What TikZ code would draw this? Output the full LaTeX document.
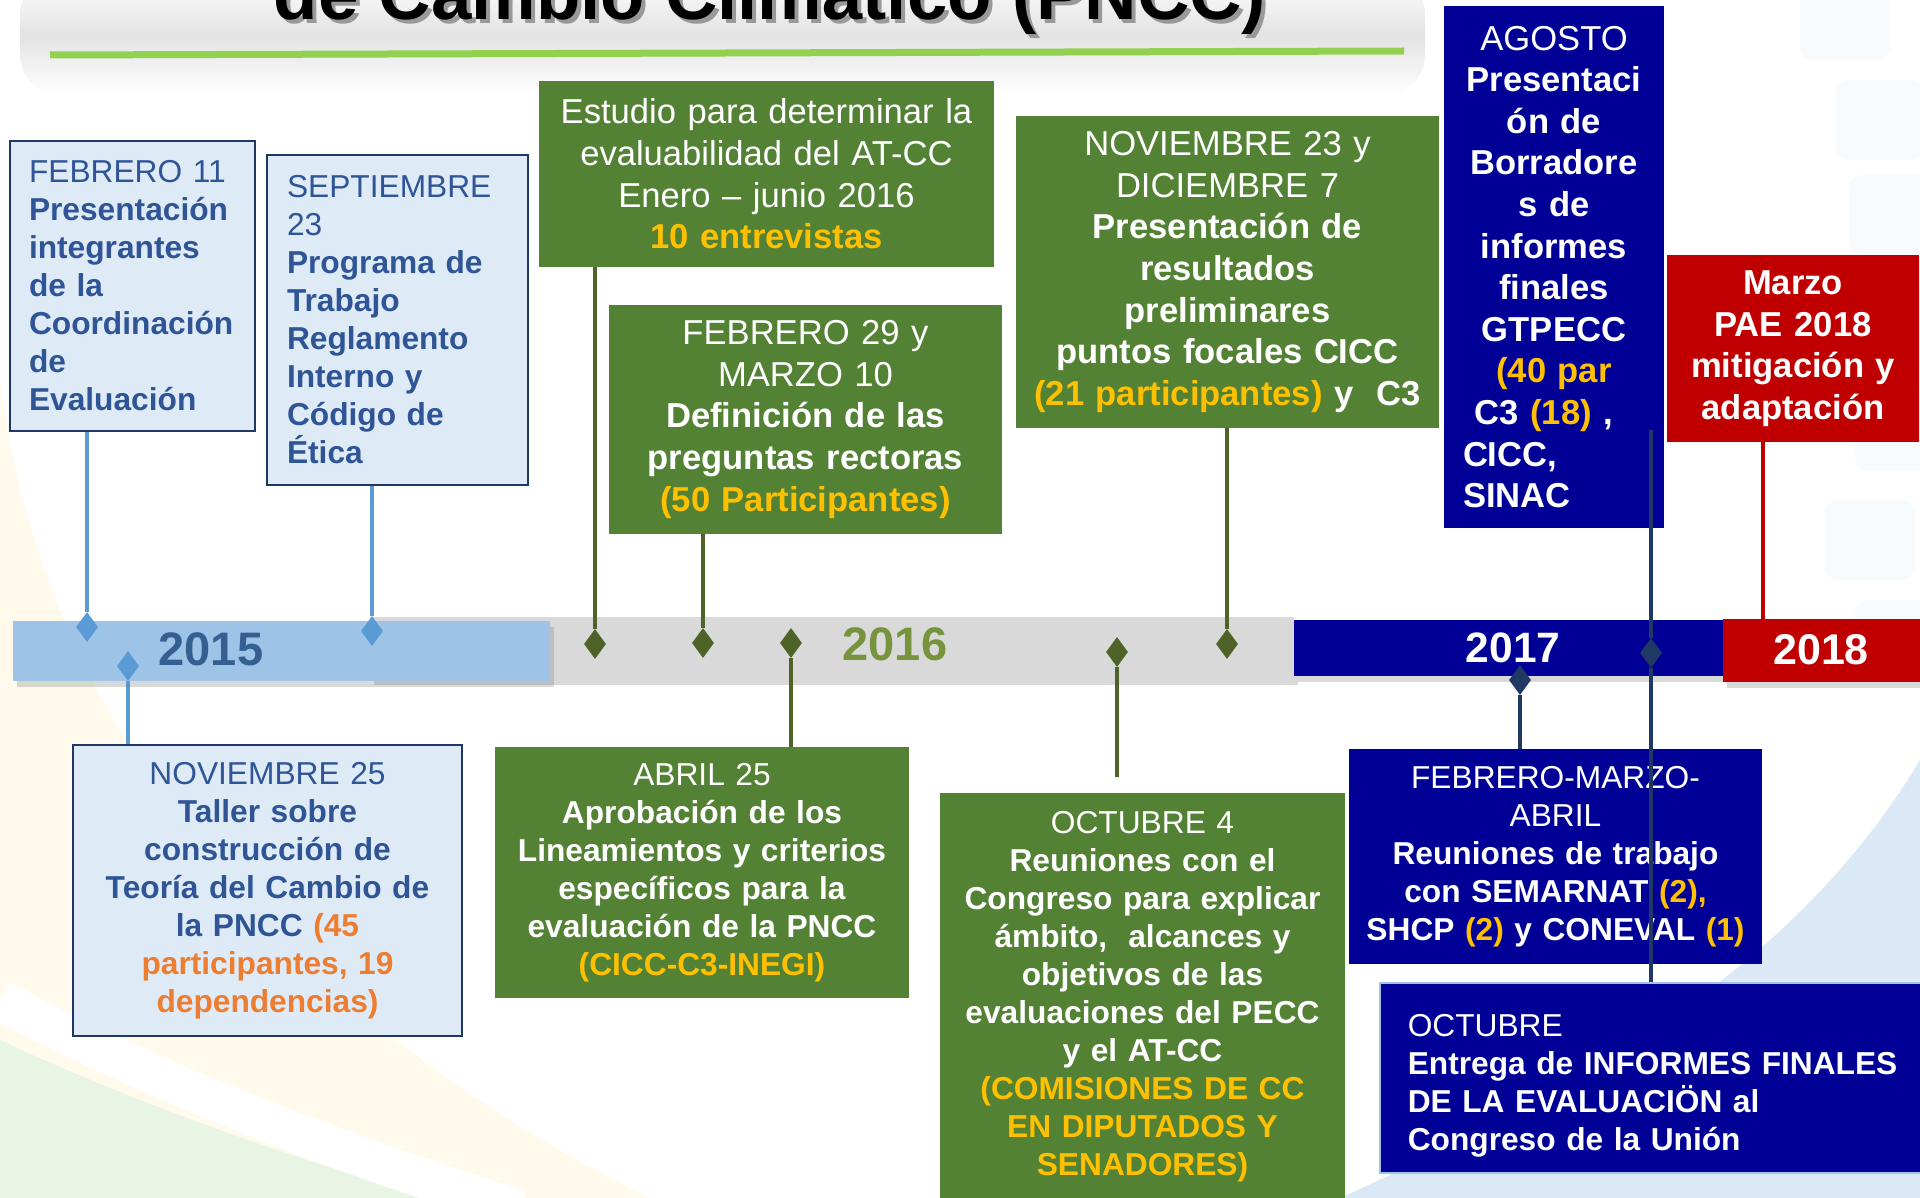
\documentclass[tikz,border=0pt]{standalone}
\usepackage{fontspec}
\setmainfont{Liberation Sans}
\usepackage{xcolor}
\usetikzlibrary{shapes.geometric,shadows}
\definecolor{pnccgreen}{HTML}{548235}
\definecolor{pnccgold}{HTML}{FFC000}
\definecolor{pnccorange}{HTML}{ED7D31}
\definecolor{pnccnavy}{HTML}{000096}
\definecolor{pnccred}{HTML}{C00000}
\definecolor{pnccpale}{HTML}{DEEBF7}
\definecolor{pnccblue}{HTML}{2F5597}
\definecolor{pnccbar}{HTML}{9DC3E6}
\definecolor{pnccsky}{HTML}{5B9BD5}
\definecolor{pnccolive}{HTML}{4F6228}
\definecolor{pnccink}{HTML}{1F3864}
\definecolor{pnccgray}{HTML}{D9D9D9}
\definecolor{pncclime}{HTML}{92D050}
\definecolor{pncc15}{HTML}{365F91}
\definecolor{pncc16}{HTML}{77933C}
\newcommand\letrachica{\fontsize{31.7}{38}\selectfont}
\newcommand\letragrande{\fontsize{34.6}{41.6}\selectfont}

\begin{document}
\begin{tikzpicture}[
  x=1pt, y=-1pt,
  every node/.style={inner sep=0pt},
  cajaclara/.style={rectangle, draw=pnccink, line width=2pt, fill=pnccpale, text=pnccblue, font=\letrachica},
  cajaverde/.style={rectangle, fill=pnccgreen, text=white, align=center},
  cajaazul/.style={rectangle, fill=pnccnavy, text=white},
  cajaroja/.style={rectangle, fill=pnccred, text=white, align=center, font=\letragrande\bfseries},
  barra/.style={rectangle, anchor=north west, drop shadow={opacity=0.3, shadow xshift=4pt, shadow yshift=-6pt}},
  rombo/.style={diamond, minimum width=22pt, minimum height=30pt},
  lineaclara/.style={draw=pnccsky, line width=4pt},
  lineaverde/.style={draw=pnccolive, line width=4pt},
  lineaazul/.style={draw=pnccink, line width=4pt},
  linearoja/.style={draw=pnccred, line width=4pt}
]
  \useasboundingbox (0,0) rectangle (1920,1198);
  \clip (0,0) rectangle (1920,1198);

  \fill[pnccgold!8] (0,380) .. controls (40,700) and (250,1000) .. (650,1198) -- (0,1198) -- cycle;
  \fill[green!30!pnccgreen!12] (0,1040) .. controls (150,1110) and (300,1160) .. (430,1198) -- (0,1198) -- cycle;
  \draw[white, line width=40pt] (0,1000) .. controls (160,1085) and (330,1150) .. (520,1210);
  \fill[pnccsky!22] (1340,1198) .. controls (1600,1080) and (1800,960) .. (1920,760) -- (1920,1198) -- cycle;
  \foreach \cx/\cy in {1845/20, 1880/120, 1895/215, 1880/330, 1900/430, 1870/540, 1900/640}
    \fill[pnccsky!4, rounded corners=12pt] (\cx-45,\cy-40) rectangle (\cx+45,\cy+40);

  \shade[top color=white, bottom color=white, middle color=black!11, rounded corners=40pt] (20,-25) rectangle (1425,95);
  \draw[pncclime, line width=7pt] (50,55) -- (1404,51);
  \node[font=\fontsize{72.6}{72.6}\selectfont\bfseries, text=black!40, anchor=base] (titulosombra) at (774,24) {de Cambio Climático (PNCC)};
  \node[font=\fontsize{72.6}{72.6}\selectfont\bfseries, anchor=base] (titulo) at (770,20) {de Cambio Climático (PNCC)};

  \node[barra, fill=pnccgray, minimum width=924pt, minimum height=62pt] (barra16) at (370,617) {};
  \node[barra, fill=pnccbar, minimum width=537pt, minimum height=60pt] (barra15) at (13,621) {};
  \node[barra, fill=pnccnavy, minimum width=429pt, minimum height=56pt] (barra17) at (1294,620) {};
  \node[barra, fill=pnccred, minimum width=200pt, minimum height=63pt] (barra18) at (1723,619) {};
  \node[font=\fontsize{47}{47}\selectfont\bfseries, text=pncc15] (a2015) at (211,649) {2015};
  \node[font=\fontsize{47}{47}\selectfont\bfseries, text=pncc16] (a2016) at (895,644) {2016};
  \node[font=\fontsize{42.5}{42.5}\selectfont\bfseries, text=white] (a2017) at (1513,648) {2017};
  \node[font=\fontsize{43}{43}\selectfont\bfseries, text=white] (a2018) at (1821,650) {2018};

  \node[cajaclara, minimum width=245pt, minimum height=290pt, text width=207pt, align=left] (feb11) at (132.5,286)
    {FEBRERO 11\\ \textbf{Presentación}\\ \textbf{integrantes}\\ \textbf{de la}\\ \textbf{Coordinación}\\ \textbf{de}\\ \textbf{Evaluación}};
  \node[cajaclara, minimum width=261pt, minimum height=330pt, text width=221pt, align=left] (sep23) at (397.5,320)
    {SEPTIEMBRE\\ 23\\ \textbf{Programa de}\\ \textbf{Trabajo}\\ \textbf{Reglamento}\\ \textbf{Interno y}\\ \textbf{Código de}\\ \textbf{Ética}};
  \node[cajaverde, font=\letragrande, minimum width=455pt, minimum height=186pt, text width=440pt] (estudio) at (766.5,174)
    {Estudio para determinar la\\ evaluabilidad del AT-CC\\ Enero – junio 2016\\ \textbf{\textcolor{pnccgold}{10 entrevistas}}};
  \node[cajaverde, font=\letragrande, minimum width=393pt, minimum height=229pt, text width=380pt] (feb29) at (805.5,419.5)
    {FEBRERO 29 y\\ MARZO 10\\ \textbf{Definición de las}\\ \textbf{preguntas rectoras}\\ \textbf{\textcolor{pnccgold}{(50 Participantes)}}};
  \node[cajaverde, font=\letragrande, minimum width=423pt, minimum height=312pt, text width=410pt] (nov23) at (1227.5,272)
    {NOVIEMBRE 23 y\\ DICIEMBRE 7\\ \textbf{Presentación de}\\ \textbf{resultados}\\ \textbf{preliminares}\\ \textbf{puntos focales CICC}\\ \textbf{\textcolor{pnccgold}{(21 participantes)} y\ \ C3}};
  \node[cajaazul, font=\letragrande, align=center, minimum width=220pt, minimum height=522pt, text width=200pt] (agosto) at (1554,267)
    {AGOSTO\\ \textbf{Presentaci}\\ \textbf{ón de}\\ \textbf{Borradore}\\ \textbf{s de}\\ \textbf{informes}\\ \textbf{finales}\\ \textbf{GTPECC}\\ \textbf{\textcolor{pnccgold}{(40 par}}\\
     \makebox[182pt][l]{\textbf{\ C3 \textcolor{pnccgold}{(18)} ,}}\\ \makebox[182pt][l]{\textbf{CICC,}}\\ \makebox[182pt][l]{\textbf{SINAC}}};
  \node[cajaroja, minimum width=252pt, minimum height=187pt, text width=245pt] (marzo) at (1793,348.5)
    {Marzo\\ PAE 2018\\ mitigación y\\ adaptación};

  \node[cajaclara, align=center, minimum width=389pt, minimum height=291pt, text width=375pt] (nov25) at (267.5,890.5)
    {NOVIEMBRE 25\\ \textbf{Taller sobre}\\ \textbf{construcción de}\\ \textbf{Teoría del Cambio de}\\ \textbf{la PNCC \textcolor{pnccorange}{(45}}\\ \textbf{\textcolor{pnccorange}{participantes, 19}}\\ \textbf{\textcolor{pnccorange}{dependencias)}}};
  \node[cajaverde, font=\letrachica, minimum width=414pt, minimum height=251pt, text width=405pt] (abr25) at (702,872.5)
    {ABRIL 25\\ \textbf{Aprobación de los}\\ \textbf{Lineamientos y criterios}\\ \textbf{específicos para la}\\ \textbf{evaluación de la PNCC}\\ \textbf{\textcolor{pnccgold}{(CICC-C3-INEGI)}}};
  \node[cajaverde, font=\letrachica, minimum width=405pt, minimum height=408pt, text width=398pt] (oct4) at (1142.5,997)
    {OCTUBRE 4\\ \textbf{Reuniones con el}\\ \textbf{Congreso para explicar}\\ \textbf{ámbito,\ \ alcances y}\\ \textbf{objetivos de las}\\ \textbf{evaluaciones del PECC}\\ \textbf{y el AT-CC}\\ \textbf{\textcolor{pnccgold}{(COMISIONES DE CC}}\\ \textbf{\textcolor{pnccgold}{EN DIPUTADOS Y}}\\ \textbf{\textcolor{pnccgold}{SENADORES)}}};
  \node[cajaazul, font=\letrachica, align=center, minimum width=413pt, minimum height=215pt, text width=400pt] (fma) at (1555.5,856.5)
    {FEBRERO-MARZO-\\ ABRIL\\ \textbf{Reuniones de trabajo}\\ \textbf{con SEMARNAT \textcolor{pnccgold}{(2),}}\\ \textbf{SHCP \textcolor{pnccgold}{(2)} y CONEVAL \textcolor{pnccgold}{(1)}}};
  \node[cajaazul, font=\letrachica, align=left, anchor=west, draw=pnccbar, line width=1.5pt, inner xsep=28pt, text width=500pt, minimum height=190pt] (oct) at (1379,1078)
    {\rule{0pt}{38pt}OCTUBRE\\ \textbf{Entrega de INFORMES FINALES}\\ \textbf{DE LA EVALUACIÖN al}\\ \textbf{Congreso de la Unión}};

  \node[rombo, fill=pnccsky] (rfeb11) at (87,627) {};
  \node[rombo, fill=pnccsky] (rsep23) at (372,631) {};
  \node[rombo, fill=pnccsky] (rnov25) at (128,666) {};
  \node[rombo, fill=pnccolive] (restudio) at (595,644) {};
  \node[rombo, fill=pnccolive] (rfeb29) at (703,643) {};
  \node[rombo, fill=pnccolive] (rabr25) at (791,643) {};
  \node[rombo, fill=pnccolive] (roct4) at (1117,652) {};
  \node[rombo, fill=pnccolive] (rnov23) at (1227,644) {};
  \node[rombo, fill=pnccink] (rfma) at (1520,680) {};
  \node[rombo, fill=pnccink] (roct) at (1651,653) {};
  \coordinate (agbase) at (1651,430);
  \coordinate (xroja) at (1763,0);

  \draw[lineaclara] (feb11.south -| rfeb11) -- (rfeb11);
  \draw[lineaclara] (sep23.south -| rsep23) -- (rsep23);
  \draw[lineaclara] (rnov25) -- (rnov25 |- nov25.north);
  \draw[lineaverde] (estudio.south -| restudio) -- (restudio);
  \draw[lineaverde] (feb29.south -| rfeb29) -- (rfeb29);
  \draw[lineaverde] (rabr25) -- (rabr25 |- abr25.north);
  \draw[lineaverde, shorten >=16pt] (roct4) -- (roct4 |- oct4.north);
  \draw[lineaverde] (nov23.south -| rnov23) -- (rnov23);
  \draw[lineaazul] (rfma) -- (rfma |- fma.north);
  \draw[lineaazul] (agbase) -- (roct) -- (roct |- oct.north);
  \draw[linearoja] (marzo.south -| xroja) -- (barra18.north -| xroja);
\end{tikzpicture}
\end{document}
